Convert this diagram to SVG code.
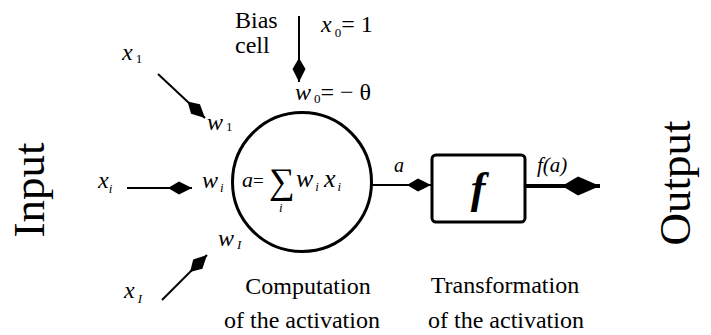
<svg xmlns="http://www.w3.org/2000/svg" width="711" height="335" viewBox="0 0 711 335">
<style>
.t{font-family:"Liberation Serif","Times New Roman",serif;fill:#000}
.lbl{font-size:24px}
.big{font-size:45px}
.m{font-family:"Liberation Serif","Times New Roman",serif;font-style:italic;fill:#000}
.ms{font-size:24px}
.s{font-size:13px}
.ln{stroke:#000;stroke-width:2;fill:none}
</style>
<defs>
<marker id="h" viewBox="0 -7 24 14" refX="24" refY="0" markerWidth="24" markerHeight="14" markerUnits="userSpaceOnUse" orient="auto">
<path d="M0,0 L11,-6.5 L24,0 L11,6.5 Z" fill="#000"/>
</marker>
<marker id="hb" viewBox="0 -10 38 20" refX="38" refY="0" markerWidth="38" markerHeight="20" markerUnits="userSpaceOnUse" orient="auto">
<path d="M0,0 L16,-9.5 L38,0 L16,9.5 Z" fill="#000"/>
</marker>
</defs>
<rect width="711" height="335" fill="#fff"/>

<g id="connectors">
<line class="ln" x1="158" y1="74" x2="205" y2="118" marker-end="url(#h)"/>
<line class="ln" x1="127" y1="188" x2="192" y2="188" marker-end="url(#h)"/>
<line class="ln" x1="162" y1="300" x2="207" y2="255" marker-end="url(#h)"/>
<line class="ln" x1="299" y1="16" x2="299" y2="82" marker-end="url(#h)"/>
<line class="ln" x1="372" y1="185" x2="431" y2="185" marker-end="url(#h)"/>
<line class="ln" x1="525" y1="186" x2="600" y2="186" style="stroke-width:4" marker-end="url(#hb)"/>
</g>

<g id="input">
<text class="t big" transform="translate(44,190) rotate(-90)" text-anchor="middle">Input</text>
</g>
<g id="output">
<text class="t big" transform="translate(690,183) rotate(-90)" text-anchor="middle">Output</text>
</g>

<g id="x1-top">
<text class="m ms" x="122" y="60">x<tspan class="s" dx="3" dy="3" font-style="normal">1</tspan></text>
</g>
<g id="xi">
<text class="m ms" x="98" y="188">x<tspan class="s" dx="0" dy="5">i</tspan></text>
</g>
<g id="xI-bottom">
<text class="m ms" x="124" y="298">x<tspan class="s" dx="3" dy="5">I</tspan></text>
</g>
<g id="w1-top">
<text class="m ms" x="207" y="130">w<tspan class="s" dx="3" dy="1" font-style="normal">1</tspan></text>
</g>
<g id="wi">
<text class="m ms" x="202" y="188">w<tspan class="s" dx="2" dy="4">i</tspan></text>
</g>
<g id="wI-bottom">
<text class="m ms" x="218" y="246">w<tspan class="s" dx="3" dy="3">I</tspan></text>
</g>

<g id="bias">
<text class="t lbl" x="235" y="28">Bias</text>
<text class="t lbl" x="235" y="53">cell</text>
<text class="m ms" x="321" y="32">x<tspan class="s" dx="3" dy="5" font-style="normal">0</tspan><tspan font-style="normal" dy="-5">= 1</tspan></text>
<text class="m ms" x="295" y="100">w<tspan class="s" dx="3" dy="3" font-style="normal">0</tspan><tspan font-style="normal" dy="-3">= − θ</tspan></text>
</g>

<g id="neuron">
<circle cx="302" cy="182" r="69.5" fill="none" stroke="#000" stroke-width="3"/>
<text class="m" x="242" y="187" style="font-size:22px">a</text>
<text class="t" x="253" y="187" style="font-size:19px">=</text>
<text class="t" x="269" y="193" style="font-size:36px">∑</text>
<text class="m s" x="279" y="212">i</text>
<text class="m" x="296" y="187" style="font-size:26px">w<tspan class="s" dx="2" dy="4">i</tspan><tspan dx="5" dy="-4">x</tspan><tspan class="s" dx="2" dy="4">i</tspan></text>
<text class="t lbl" x="308" y="294" text-anchor="middle">Computation</text>
<text class="t lbl" x="302" y="328" text-anchor="middle">of the activation</text>
</g>

<g id="a-label">
<text class="m" x="394" y="172" style="font-size:20px">a</text>
</g>

<g id="transfer">
<rect x="432" y="155" width="93" height="67" rx="4" fill="#fff" stroke="#000" stroke-width="3"/>
<text class="m" x="478" y="203" text-anchor="middle" style="font-size:44px;font-weight:bold">f</text>
<text class="m" x="537" y="172" style="font-size:21px">f(a)</text>
<text class="t lbl" x="505" y="293" text-anchor="middle">Transformation</text>
<text class="t lbl" x="506" y="328" text-anchor="middle">of the activation</text>
</g>
</svg>
